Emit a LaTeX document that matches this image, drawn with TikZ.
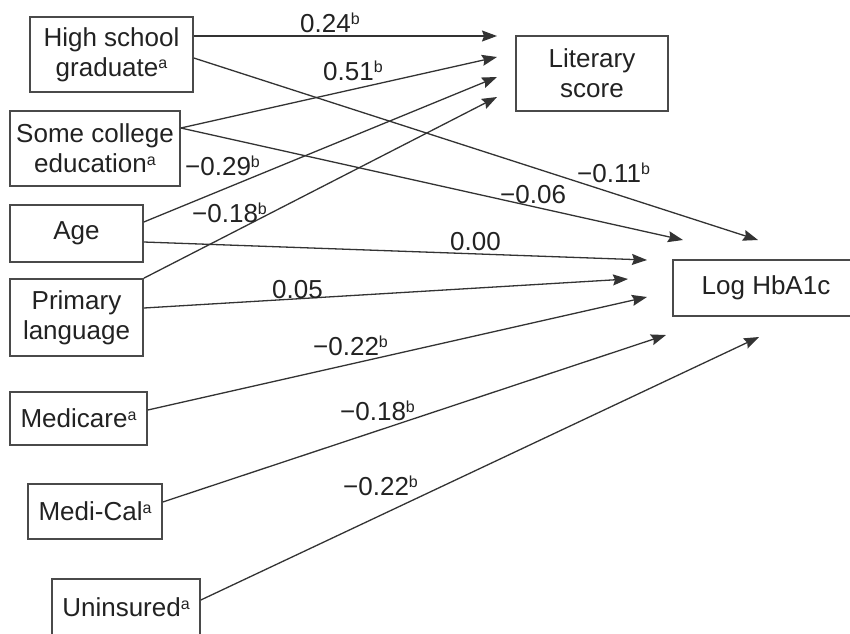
\documentclass[tikz,border=0pt]{standalone}
\usepackage{fontspec}
\setmainfont{Liberation Sans}
\usetikzlibrary{arrows.meta}
\definecolor{boxgray}{HTML}{4A4A4A}
\definecolor{linegray}{HTML}{333333}
\definecolor{txt}{HTML}{222222}
\newcommand\supx[1]{\raisebox{7.5pt}{\fontsize{16}{16}\selectfont #1}}
\begin{document}
\begin{tikzpicture}[x=1pt,y=-1pt,
  box/.style={draw=boxgray,line width=1.6pt,align=center,font=\fontsize{26}{30}\selectfont,inner sep=0pt,text=txt},
  arr/.style={draw=linegray,line width=1.3pt,-{Stealth[length=15pt,width=11pt,inset=2pt]}},
  lab/.style={anchor=base west,inner sep=0pt,font=\fontsize{26}{30}\selectfont,text=txt}]
\fill[white] (0,0) rectangle (850,633);
\useasboundingbox (0,0) rectangle (850,633);
% boxes
\node[box,minimum width=163pt,minimum height=75pt] (hs) at (111.5,54.5) {High school\\graduate\supx{a}};
\node[box,minimum width=170pt,minimum height=75pt] (sc) at (95,148.5) {Some college\\education\supx{a}};
\node[box,minimum width=133pt,minimum height=57pt] (age) at (76.5,233.5) {Age};
\node[box,minimum width=133pt,minimum height=77pt] (pl) at (76.5,317.5) {Primary\\language};
\node[box,minimum width=137pt,minimum height=53pt] (mc) at (78.5,418.5) {Medicare\supx{a}};
\node[box,minimum width=134pt,minimum height=55pt] (mcal) at (95,511.5) {Medi-Cal\supx{a}};
\node[box,minimum width=148pt,minimum height=57pt] (un) at (126,607.5) {Uninsured\supx{a}};
\node[box,minimum width=152pt,minimum height=75pt] (lit) at (592,73.5) {Literary\\score};
\node[box,minimum width=186pt,minimum height=56pt] (hb) at (766,288) {Log HbA1c};
% arrow tips
\coordinate (l1) at (497,36);
\coordinate (l2) at (497,57);
\coordinate (l3) at (497,77);
\coordinate (l4) at (497,97);
\coordinate (h1) at (758,240);
\coordinate (h2) at (683,240);
\coordinate (h3) at (647,260);
\coordinate (h4) at (628,279);
\coordinate (h5) at (647,297);
\coordinate (h6) at (666,335);
\coordinate (h7) at (759,337);
% arrows to literary score
\draw[arr] ([yshift=18.5pt]hs.east) -- (l1);
\draw[arr] ([yshift=20.5pt]sc.east) -- (l2);
\draw[arr] ([yshift=11.5pt]age.east) -- (l3);
\draw[arr] (pl.north east) -- (l4);
% arrows to log HbA1c
\draw[arr] ([yshift=-3.5pt]hs.east) -- (h1);
\draw[arr] ([yshift=20.5pt]sc.east) -- (h2);
\draw[arr] ([yshift=-8.5pt]age.east) -- (h3);
\draw[arr] ([yshift=9.5pt]pl.east) -- (h4);
\draw[arr] ([yshift=8.5pt]mc.east) -- (h5);
\draw[arr] ([yshift=9.5pt]mcal.east) -- (h6);
\draw[arr] ([yshift=7.5pt]un.east) -- (h7);
% labels
\node[lab] (t1) at (300,32) {0.24\supx{b}};
\node[lab] (t2) at (323,80) {0.51\supx{b}};
\node[lab] (t3) at (185,175) {−0.29\supx{b}};
\node[lab] (t4) at (192,222) {−0.18\supx{b}};
\node[lab] (t5) at (577,182) {−0.11\supx{b}};
\node[lab] (t6) at (500,203) {−0.06};
\node[lab] (t7) at (450,250) {0.00};
\node[lab] (t8) at (272,298) {0.05};
\node[lab] (t9) at (313,355) {−0.22\supx{b}};
\node[lab] (t10) at (340,420) {−0.18\supx{b}};
\node[lab] (t11) at (343,495) {−0.22\supx{b}};
\end{tikzpicture}
\end{document}
